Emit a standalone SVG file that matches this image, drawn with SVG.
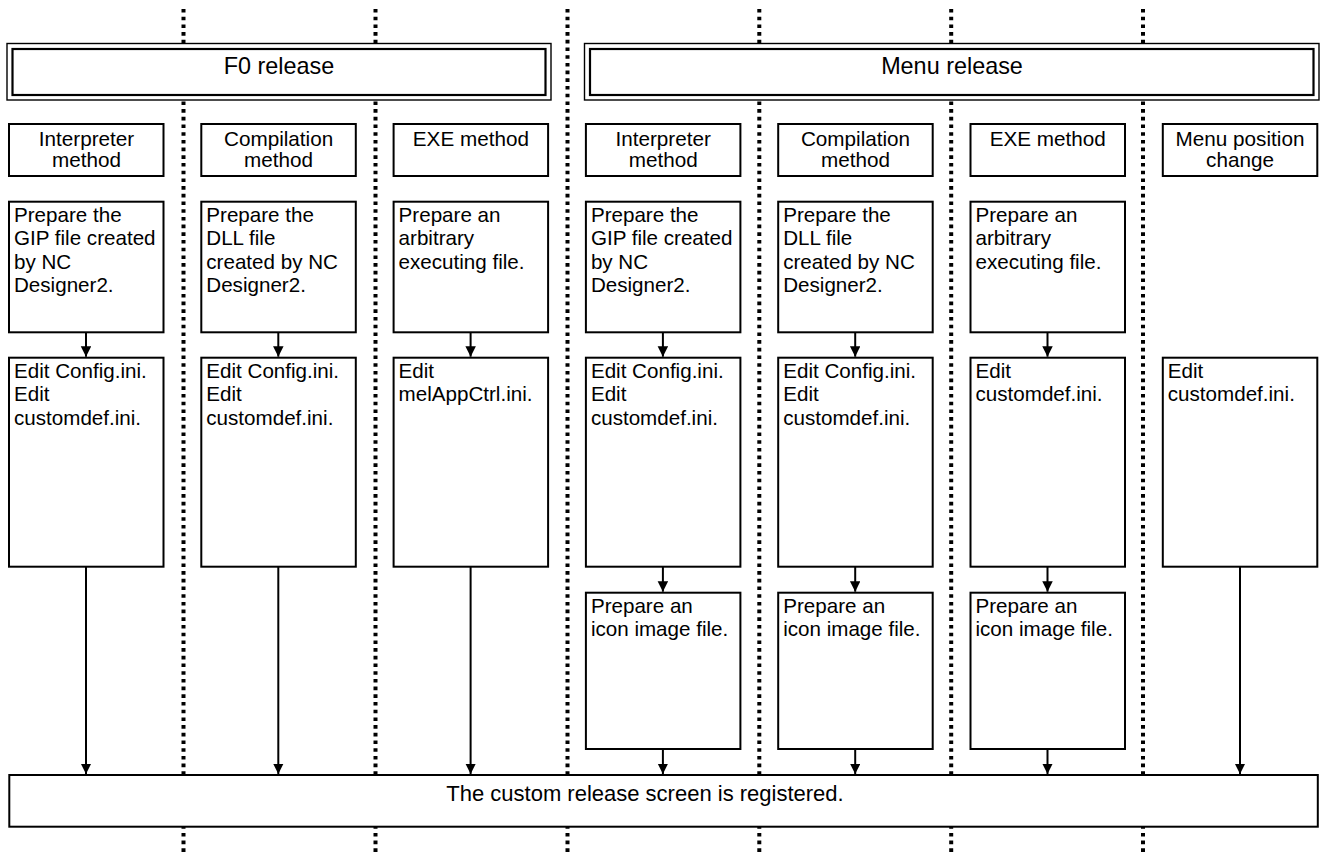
<svg xmlns="http://www.w3.org/2000/svg" width="1322" height="855" viewBox="0 0 1322 855">
<style>
  .lane { stroke:#000; stroke-width:4; stroke-dasharray:3.6 4.1; fill:none; }
  .box { fill:#fff; stroke:#000; stroke-width:2; }
  .outer { fill:#fff; stroke:#000; stroke-width:1.4; }
  .inner { fill:none; stroke:#000; stroke-width:2.2; }
  .conn { stroke:#000; stroke-width:2; fill:none; marker-end:url(#arr); }
  text { font-family:"Liberation Sans", Arial, sans-serif; fill:#000; }
  .big { font-size:23.4px; text-anchor:middle; }
  .hd { font-size:20.7px; text-anchor:middle; }
  .tx { font-size:20.6px; }
  .ft { font-size:22px; text-anchor:middle; }
</style>
<defs>
  <marker id="arr" markerUnits="userSpaceOnUse" markerWidth="11" markerHeight="11" refX="10.5" refY="5.25" orient="auto">
    <path d="M0,0 L10.5,5.25 L0,10.5 z" fill="#000"/>
  </marker>
</defs>
<rect x="0" y="0" width="1322" height="855" fill="#fff"/>
<g id="lanes">
  <line class="lane" x1="183.5" y1="9" x2="183.5" y2="855"/>
  <line class="lane" x1="375.5" y1="9" x2="375.5" y2="855"/>
  <line class="lane" x1="567.5" y1="9" x2="567.5" y2="855"/>
  <line class="lane" x1="759.3" y1="9" x2="759.3" y2="855"/>
  <line class="lane" x1="951.2" y1="9" x2="951.2" y2="855"/>
  <line class="lane" x1="1143" y1="9" x2="1143" y2="855"/>
</g>
<g id="f0-release">
  <rect class="outer" x="7" y="43.5" width="544" height="56.5"/>
  <rect class="inner" x="12.5" y="49" width="533" height="46"/>
  <text class="big" x="279" y="73.5">F0 release</text>
</g>
<g id="menu-release">
  <rect class="outer" x="584.5" y="43.5" width="734.5" height="56.5"/>
  <rect class="inner" x="590" y="49" width="723.5" height="46"/>
  <text class="big" x="952" y="73.5">Menu release</text>
</g>
<g id="col1-header"><rect class="box" x="9" y="124" width="154.5" height="52"/><text class="hd" x="86.5" y="145.5">Interpreter</text><text class="hd" x="86.5" y="167">method</text></g>
<g id="col2-header"><rect class="box" x="201.3" y="124" width="154.5" height="52"/><text class="hd" x="278.6" y="145.5">Compilation</text><text class="hd" x="278.6" y="167">method</text></g>
<g id="col3-header"><rect class="box" x="393.6" y="124" width="154.5" height="52"/><text class="hd" x="470.9" y="145.5">EXE method</text></g>
<g id="col4-header"><rect class="box" x="585.9" y="124" width="154.5" height="52"/><text class="hd" x="663.2" y="145.5">Interpreter</text><text class="hd" x="663.2" y="167">method</text></g>
<g id="col5-header"><rect class="box" x="778.2" y="124" width="154.5" height="52"/><text class="hd" x="855.5" y="145.5">Compilation</text><text class="hd" x="855.5" y="167">method</text></g>
<g id="col6-header"><rect class="box" x="970.5" y="124" width="154.5" height="52"/><text class="hd" x="1047.8" y="145.5">EXE method</text></g>
<g id="col7-header"><rect class="box" x="1162.8" y="124" width="154.5" height="52"/><text class="hd" x="1240" y="145.5">Menu position</text><text class="hd" x="1240" y="167">change</text></g>

<g id="col1-prepare"><rect class="box" x="9" y="201.7" width="154.5" height="130.6"/><text class="tx" x="14" y="221.7">Prepare the</text><text class="tx" x="14" y="245.2">GIP file created</text><text class="tx" x="14" y="268.7">by NC</text><text class="tx" x="14" y="292.2">Designer2.</text></g>
<g id="col2-prepare"><rect class="box" x="201.3" y="201.7" width="154.5" height="130.6"/><text class="tx" x="206.3" y="221.7">Prepare the</text><text class="tx" x="206.3" y="245.2">DLL file</text><text class="tx" x="206.3" y="268.7">created by NC</text><text class="tx" x="206.3" y="292.2">Designer2.</text></g>
<g id="col3-prepare"><rect class="box" x="393.6" y="201.7" width="154.5" height="130.6"/><text class="tx" x="398.6" y="221.7">Prepare an</text><text class="tx" x="398.6" y="245.2">arbitrary</text><text class="tx" x="398.6" y="268.7">executing file.</text></g>
<g id="col4-prepare"><rect class="box" x="585.9" y="201.7" width="154.5" height="130.6"/><text class="tx" x="590.9" y="221.7">Prepare the</text><text class="tx" x="590.9" y="245.2">GIP file created</text><text class="tx" x="590.9" y="268.7">by NC</text><text class="tx" x="590.9" y="292.2">Designer2.</text></g>
<g id="col5-prepare"><rect class="box" x="778.2" y="201.7" width="154.5" height="130.6"/><text class="tx" x="783.2" y="221.7">Prepare the</text><text class="tx" x="783.2" y="245.2">DLL file</text><text class="tx" x="783.2" y="268.7">created by NC</text><text class="tx" x="783.2" y="292.2">Designer2.</text></g>
<g id="col6-prepare"><rect class="box" x="970.5" y="201.7" width="154.5" height="130.6"/><text class="tx" x="975.5" y="221.7">Prepare an</text><text class="tx" x="975.5" y="245.2">arbitrary</text><text class="tx" x="975.5" y="268.7">executing file.</text></g>

<g id="col1-edit"><rect class="box" x="9" y="357.7" width="154.5" height="209"/><text class="tx" x="14" y="377.7">Edit Config.ini.</text><text class="tx" x="14" y="401.2">Edit</text><text class="tx" x="14" y="424.7">customdef.ini.</text></g>
<g id="col2-edit"><rect class="box" x="201.3" y="357.7" width="154.5" height="209"/><text class="tx" x="206.3" y="377.7">Edit Config.ini.</text><text class="tx" x="206.3" y="401.2">Edit</text><text class="tx" x="206.3" y="424.7">customdef.ini.</text></g>
<g id="col3-edit"><rect class="box" x="393.6" y="357.7" width="154.5" height="209"/><text class="tx" x="398.6" y="377.7">Edit</text><text class="tx" x="398.6" y="401.2">melAppCtrl.ini.</text></g>
<g id="col4-edit"><rect class="box" x="585.9" y="357.7" width="154.5" height="209"/><text class="tx" x="590.9" y="377.7">Edit Config.ini.</text><text class="tx" x="590.9" y="401.2">Edit</text><text class="tx" x="590.9" y="424.7">customdef.ini.</text></g>
<g id="col5-edit"><rect class="box" x="778.2" y="357.7" width="154.5" height="209"/><text class="tx" x="783.2" y="377.7">Edit Config.ini.</text><text class="tx" x="783.2" y="401.2">Edit</text><text class="tx" x="783.2" y="424.7">customdef.ini.</text></g>
<g id="col6-edit"><rect class="box" x="970.5" y="357.7" width="154.5" height="209"/><text class="tx" x="975.5" y="377.7">Edit</text><text class="tx" x="975.5" y="401.2">customdef.ini.</text></g>
<g id="col7-edit"><rect class="box" x="1162.8" y="357.7" width="154.5" height="209"/><text class="tx" x="1167.8" y="377.7">Edit</text><text class="tx" x="1167.8" y="401.2">customdef.ini.</text></g>

<g id="col4-icon"><rect class="box" x="585.9" y="592.7" width="154.5" height="156.3"/><text class="tx" x="590.9" y="612.7">Prepare an</text><text class="tx" x="590.9" y="636.2">icon image file.</text></g>
<g id="col5-icon"><rect class="box" x="778.2" y="592.7" width="154.5" height="156.3"/><text class="tx" x="783.2" y="612.7">Prepare an</text><text class="tx" x="783.2" y="636.2">icon image file.</text></g>
<g id="col6-icon"><rect class="box" x="970.5" y="592.7" width="154.5" height="156.3"/><text class="tx" x="975.5" y="612.7">Prepare an</text><text class="tx" x="975.5" y="636.2">icon image file.</text></g>

<g id="registered"><rect class="box" x="9.3" y="775" width="1308.5" height="51.7"/><text class="ft" x="645" y="800.7">The custom release screen is registered.</text></g>

<g id="connectors">
  <line class="conn" x1="86" y1="332.3" x2="86" y2="356.7"/>
  <line class="conn" x1="278.3" y1="332.3" x2="278.3" y2="356.7"/>
  <line class="conn" x1="470.6" y1="332.3" x2="470.6" y2="356.7"/>
  <line class="conn" x1="662.9" y1="332.3" x2="662.9" y2="356.7"/>
  <line class="conn" x1="855.2" y1="332.3" x2="855.2" y2="356.7"/>
  <line class="conn" x1="1047.5" y1="332.3" x2="1047.5" y2="356.7"/>

  <line class="conn" x1="86" y1="566.7" x2="86" y2="774"/>
  <line class="conn" x1="278.3" y1="566.7" x2="278.3" y2="774"/>
  <line class="conn" x1="470.6" y1="566.7" x2="470.6" y2="774"/>
  <line class="conn" x1="1240" y1="566.7" x2="1240" y2="774"/>

  <line class="conn" x1="662.9" y1="566.7" x2="662.9" y2="591.7"/>
  <line class="conn" x1="855.2" y1="566.7" x2="855.2" y2="591.7"/>
  <line class="conn" x1="1047.5" y1="566.7" x2="1047.5" y2="591.7"/>

  <line class="conn" x1="662.9" y1="749" x2="662.9" y2="774"/>
  <line class="conn" x1="855.2" y1="749" x2="855.2" y2="774"/>
  <line class="conn" x1="1047.5" y1="749" x2="1047.5" y2="774"/>
</g>
</svg>
